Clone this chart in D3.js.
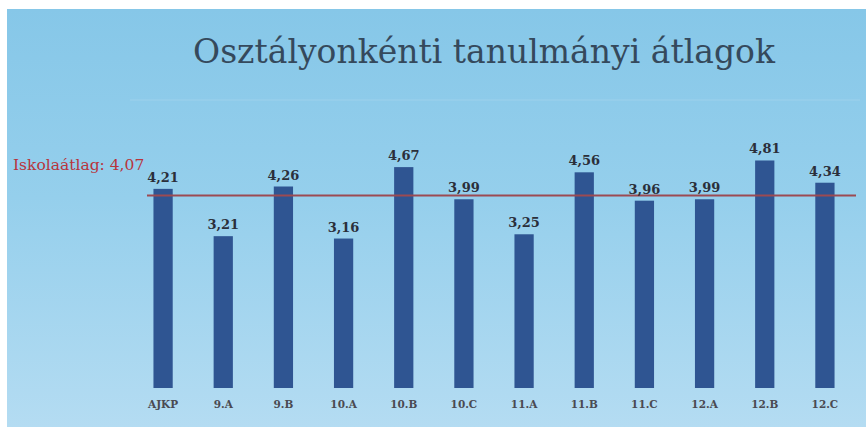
<!DOCTYPE html>
<html>
<head>
<meta charset="utf-8">
<script src="https://cdn.jsdelivr.net/npm/d3@7"></script>
<style>
  html, body { margin: 0; padding: 0; background: #fff; }
</style>
</head>
<body>
<div id="vis"></div>
<script>
const classes = ['AJKP', '9.A', '9.B', '10.A', '10.B', '10.C', '11.A', '11.B', '11.C', '12.A', '12.B', '12.C'];
const averages = [4.21, 3.21, 4.26, 3.16, 4.67, 3.99, 3.25, 4.56, 3.96, 3.99, 4.81, 4.34];
const schoolAverage = [4.07];

const W = 866, H = 427;
const serif = `"DejaVu Serif", Georgia, "Liberation Serif", serif`;
const fmt = v => v.toFixed(2).replace('.', ',');

var svg = d3.select("#vis").append("svg")
    .attr("width", W).attr("height", H);

// background gradient, light blue slide
var grad = svg.append("defs").append("linearGradient")
    .attr("id", "bg").attr("x1", 0).attr("y1", 0).attr("x2", 0).attr("y2", 1);
grad.append("stop").attr("offset", "0%").attr("stop-color", "#86c7e8");
grad.append("stop").attr("offset", "45%").attr("stop-color", "#95cfec");
grad.append("stop").attr("offset", "100%").attr("stop-color", "#b4dcf2");

svg.append("rect")
    .attr("x", 7).attr("y", 9)
    .attr("width", W - 7).attr("height", H - 9)
    .attr("fill", "url(#bg)");

// faint line under the title area
svg.append("line")
    .attr("x1", 130).attr("x2", 860)
    .attr("y1", 100).attr("y2", 100)
    .attr("stroke", "#bfe1f3").attr("stroke-width", 1).attr("opacity", 0.35);

svg.append("text")
    .attr("x", 484).attr("y", 63)
    .attr("text-anchor", "middle")
    .style("font-family", serif)
    .style("font-size", "33px")
    .attr("fill", "#35495c")
    .text("Osztályonkénti tanulmányi átlagok");

var x = d3.scaleBand()
    .domain(classes)
    .range([133, 855])
    .paddingInner(0.68)
    .paddingOuter(0.34);

var y = d3.scaleLinear()
    .domain([0, 5])
    .range([388, 151.5]);

svg.selectAll("rect.bar")
    .data(classes)
    .enter().append("rect")
    .attr("class", "bar")
    .attr("x", d => x(d))
    .attr("width", x.bandwidth())
    .attr("y", (d, i) => y(averages[i]))
    .attr("height", (d, i) => y(0) - y(averages[i]))
    .attr("fill", "#2f5592");

// school average line
svg.selectAll("line.avg")
    .data(schoolAverage)
    .enter().append("line")
    .attr("class", "avg")
    .attr("x1", 147).attr("x2", 856)
    .attr("y1", d => y(d)).attr("y2", d => y(d))
    .attr("stroke", "#9c4a52")
    .attr("stroke-width", 2);

svg.selectAll("text.avglabel")
    .data(schoolAverage)
    .enter().append("text")
    .attr("class", "avglabel")
    .attr("x", 13).attr("y", 170)
    .style("font-family", serif)
    .style("font-size", "15.5px")
    .attr("fill", "#b8343c")
    .text(d => "Iskolaátlag: " + fmt(d));

// value labels
svg.selectAll("text.val")
    .data(classes)
    .enter().append("text")
    .attr("class", "val")
    .attr("x", d => x(d) + x.bandwidth() / 2)
    .attr("y", (d, i) => y(averages[i]) - 7)
    .attr("text-anchor", "middle")
    .style("font-family", serif)
    .style("font-size", "13px")
    .style("font-weight", "bold")
    .attr("fill", "#2b2f3a")
    .text((d, i) => fmt(averages[i]));

// category labels
svg.selectAll("text.cat")
    .data(classes)
    .enter().append("text")
    .attr("class", "cat")
    .attr("x", d => x(d) + x.bandwidth() / 2)
    .attr("y", 408)
    .attr("text-anchor", "middle")
    .style("font-family", serif)
    .style("font-size", "10.5px")
    .style("font-weight", "bold")
    .attr("fill", "#4a4a52")
    .text(d => d);
</script>
</body>
</html>
